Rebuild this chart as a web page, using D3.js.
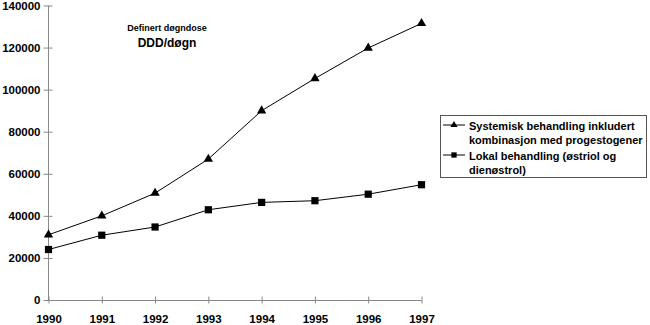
<!DOCTYPE html>
<html><head><meta charset="utf-8">
<script src="https://cdn.jsdelivr.net/npm/d3@7"></script>
<style>body{margin:0;background:#fff}svg{display:block;font-family:"Liberation Sans",Arial,sans-serif;font-weight:bold}</style>
</head><body>
<svg id="c" width="650" height="325"></svg>
<script>
const years = [1990,1991,1992,1993,1994,1995,1996,1997];
const systemisk = [31000,40000,50800,67000,90000,105300,119800,131500];
const lokal = [24000,30800,34700,42900,46400,47200,50300,54800];
const yTicks = [0,20000,40000,60000,80000,100000,120000,140000];
const seriesNames = ["Systemisk behandling inkludert\nkombinasjon med progestogener","Lokal behandling (østriol og\ndienøstrol)"];

const svg = d3.select("#c");
const x = d3.scalePoint().domain(years).range([48.5,421.5]);
const y = d3.scaleLinear().domain([0,140000]).range([300,5.5]);
const axisColor = "#888";

// y axis
const ya = svg.append("g").attr("transform","translate(48.5,0)")
  .call(d3.axisLeft(y).tickValues(yTicks).tickFormat(d3.format("d")).tickSize(5).tickPadding(4));
ya.selectAll("line").attr("x2",4).attr("x1",-5).attr("stroke",axisColor);
ya.select(".domain").remove();
ya.append("line").attr("y1",y(0)).attr("y2",y(140000)).attr("stroke",axisColor);
ya.selectAll("text").attr("font-size",11.5).attr("font-weight","bold").attr("font-family","Liberation Sans, Arial").attr("fill","#000").attr("x",-8);

// x axis
const xa = svg.append("g").attr("transform","translate(0,300.5)")
  .call(d3.axisBottom(x).tickSize(3).tickPadding(11));
xa.selectAll("line").attr("y1",-4).attr("y2",3).attr("stroke",axisColor);
xa.select(".domain").remove();
xa.append("line").attr("x1",48.5).attr("x2",421.5).attr("stroke",axisColor);
xa.selectAll("text").attr("font-size",11.5).attr("font-weight","bold").attr("font-family","Liberation Sans, Arial").attr("fill","#000");

const line = d3.line().x((d,i)=>x(years[i])).y(d=>y(d));
svg.append("path").attr("d",line(systemisk)).attr("fill","none").attr("stroke","#000").attr("stroke-width",1);
svg.append("path").attr("d",line(lokal)).attr("fill","none").attr("stroke","#000").attr("stroke-width",1);

const tri = d3.symbol().type(d3.symbolTriangle).size(38);
const sq = d3.symbol().type(d3.symbolSquare).size(52);
svg.selectAll(".t").data(systemisk).join("path").attr("d",tri)
  .attr("transform",(d,i)=>`translate(${x(years[i])},${y(d)})`).attr("fill","#000");
svg.selectAll(".s").data(lokal).join("path").attr("d",sq)
  .attr("transform",(d,i)=>`translate(${x(years[i])},${y(d)})`).attr("fill","#000");

// annotation
svg.append("text").attr("x",167).attr("y",31).attr("text-anchor","middle").attr("font-size",9).text("Definert døgndose");
svg.append("text").attr("x",167).attr("y",47).attr("text-anchor","middle").attr("font-size",12).text("DDD/døgn");

// legend
const lg = svg.append("g");
lg.append("rect").attr("x",440.5).attr("y",115.5).attr("width",206).attr("height",62).attr("fill","#fff").attr("stroke","#555");
const ly = [125, 155];
seriesNames.forEach((n,i)=>{
  lg.append("line").attr("x1",443).attr("x2",465).attr("y1",ly[i]).attr("y2",ly[i]).attr("stroke","#000");
  lg.append("path").attr("d",i===0?d3.symbol().type(d3.symbolTriangle).size(22)():d3.symbol().type(d3.symbolSquare).size(28)()).attr("transform",`translate(454,${ly[i]})`);
  const t = lg.append("text").attr("x",469).attr("y",ly[i]+4.5).attr("font-size",11).attr("textLength",null);
  n.split("\n").forEach((s,j)=>t.append("tspan").attr("x",469).attr("dy",j?14:0).text(s));
});
</script>
</body></html>
